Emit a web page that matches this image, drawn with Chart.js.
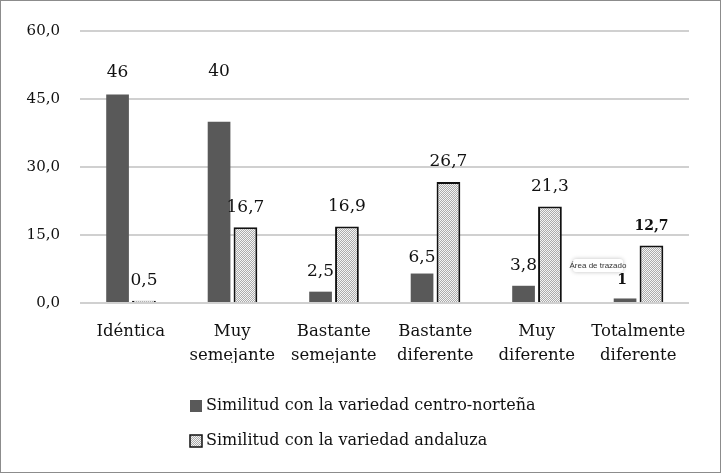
<!DOCTYPE html>
<html>
<head>
<meta charset="utf-8">
<script src="https://cdn.jsdelivr.net/npm/chart.js@4.4.0/dist/chart.umd.min.js"></script>
<style>
html,body{margin:0;padding:0;background:#fff;}
#wrap{width:721px;height:473px;position:relative;}
</style>
</head>
<body>
<div id="wrap"><canvas id="c" width="721" height="473"></canvas></div>
<script>
const categories = [["Idéntica"], ["Muy", "semejante"], ["Bastante", "semejante"], ["Bastante", "diferente"], ["Muy", "diferente"], ["Totalmente", "diferente"]];
const seriesNames = ["Similitud con la variedad centro-norteña", "Similitud con la variedad andaluza"];
const centroNortena = [46, 40, 2.5, 6.5, 3.8, 1];
const andaluza = [0.5, 16.7, 16.9, 26.7, 21.3, 12.7];
const yTicks = [0, 15, 30, 45, 60];

const FONT = "'DejaVu Serif', 'Liberation Serif', serif";
const DARK = '#595959';

function makeHatch() {
  const t = document.createElement('canvas');
  t.width = 2; t.height = 2;
  const c = t.getContext('2d');
  c.fillStyle = '#f4f4f4';
  c.fillRect(0, 0, 2, 2);
  c.fillStyle = '#ababab';
  c.fillRect(0, 1, 1, 1);
  c.fillRect(1, 0, 1, 1);
  return document.getElementById('c').getContext('2d').createPattern(t, 'repeat');
}
const hatch = makeHatch();

function fmt(v) {
  return Number.isInteger(v) ? String(v) : v.toFixed(1).replace('.', ',');
}

const extras = {
  id: 'extras',
  afterDatasetsDraw(chart, args, opts) {
    const ctx = chart.ctx;
    ctx.save();
    ctx.fillStyle = '#111';
    ctx.textAlign = 'center';
    ctx.textBaseline = 'middle';
    chart.data.datasets.forEach((ds, di) => {
      const meta = chart.getDatasetMeta(di);
      meta.data.forEach((bar, i) => {
        const key = di + ':' + i;
        const off = opts.offsets[key] !== undefined ? opts.offsets[key] : opts.offset;
        ctx.font = (opts.fonts[key] || '17px ' + FONT);
        ctx.fillText(fmt(ds.data[i]), bar.x + (opts.dx[key] || 0), bar.y - off);
      });
    });
    ctx.restore();
  },
  afterDraw(chart) {
    const ctx = chart.ctx;
    ctx.save();
    // legend
    const items = [
      {y: 406, fill: DARK, border: null, text: seriesNames[0]},
      {y: 441, fill: hatch, border: '#111', text: seriesNames[1]}
    ];
    ctx.font = '16px ' + FONT;
    ctx.textBaseline = 'middle';
    ctx.textAlign = 'left';
    items.forEach(it => {
      ctx.fillStyle = it.fill;
      ctx.fillRect(190, it.y - 6, 12, 12);
      if (it.border) {
        ctx.strokeStyle = it.border;
        ctx.lineWidth = 1.5;
        ctx.strokeRect(190, it.y - 6, 12, 12);
      }
      ctx.fillStyle = '#111';
      ctx.fillText(it.text, 206, it.y);
    });
    // hover tag
    ctx.shadowColor = 'rgba(0,0,0,0.25)';
    ctx.shadowBlur = 4;
    ctx.fillStyle = '#fff';
    ctx.beginPath();
    ctx.roundRect(573, 259, 50, 13, 3);
    ctx.fill();
    ctx.shadowBlur = 0;
    ctx.fillStyle = '#333';
    ctx.font = '8px "Liberation Sans", sans-serif';
    ctx.textAlign = 'center';
    ctx.fillText('Área de trazado', 598, 266);
    // outer border
    ctx.strokeStyle = '#8c8c8c';
    ctx.lineWidth = 1;
    ctx.strokeRect(0.5, 0.5, 720, 472);
    ctx.restore();
  }
};

new Chart(document.getElementById('c'), {
  type: 'bar',
  data: {
    labels: categories,
    datasets: [
      {label: seriesNames[0], data: centroNortena, backgroundColor: DARK, borderWidth: 0,
       categoryPercentage: 0.52, barPercentage: 0.86},
      {label: seriesNames[1], data: andaluza, backgroundColor: hatch, borderColor: '#111', borderWidth: 2,
       categoryPercentage: 0.52, barPercentage: 0.9}
    ]
  },
  options: {
    responsive: false,
    animation: false,
    devicePixelRatio: 1,
    layout: {padding: {left: 0, right: 32, top: 31, bottom: 110}},
    plugins: {
      legend: {display: false}, tooltip: {enabled: false},
      extras: {
        offset: 20,
        offsets: {'0:1': 50, '0:0': 22, '0:5': 18, '1:5': 19, '0:3': 16},
        dx: {'0:5': -3},
        fonts: {'0:5': 'bold 14px ' + FONT, '1:5': 'bold 14px ' + FONT}
      }
    },
    scales: {
      x: {
        grid: {display: false, drawTicks: false},
        border: {display: false},
        ticks: {color: '#111', font: {family: FONT, size: 16.5, lineHeight: 1.5}, padding: 16, maxRotation: 0, autoSkip: false},
        afterFit(s) { s.height = 60; }
      },
      y: {
        min: 0, max: 60,
        afterBuildTicks(s) { s.ticks = yTicks.map(v => ({value: v})); },
        grid: {color: '#d0d0d0', lineWidth: 2, drawTicks: false},
        border: {display: false},
        ticks: {color: '#111', font: {family: FONT, size: 15}, padding: 20,
                callback: v => v.toFixed(1).replace('.', ',')},
        afterFit(s) { s.width = 80; }
      }
    }
  },
  plugins: [extras]
});
</script>
</body>
</html>
